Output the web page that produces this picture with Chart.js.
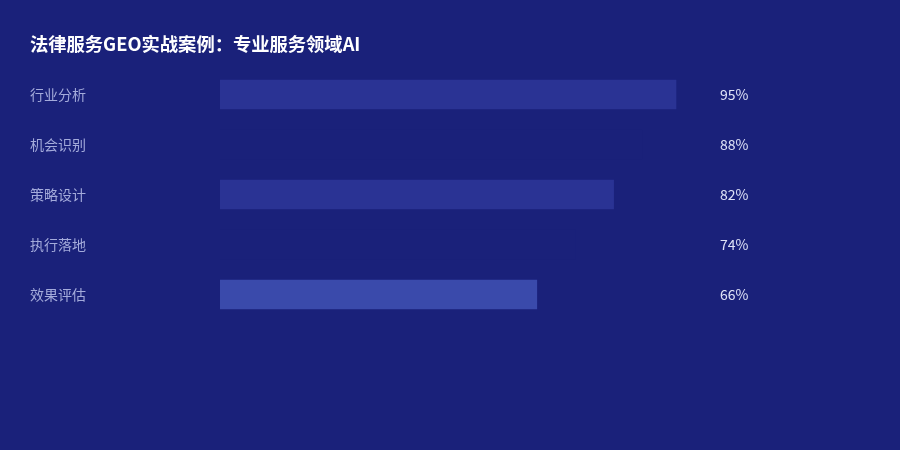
<!DOCTYPE html>
<html>
<head>
<meta charset="utf-8">
<script src="https://cdn.jsdelivr.net/npm/chart.js@4"></script>
<style>
  html, body { margin: 0; padding: 0; background: #1a217a; }
  #wrap { width: 900px; height: 450px; }
</style>
</head>
<body>
<div id="wrap"><canvas id="chart"></canvas></div>
<script>
// データ
const titleText = '法律服务GEO实战案例：专业服务领域AI';
const stages = ['行业分析', '机会识别', '策略设计', '执行落地', '效果评估'];
const scores = [95, 88, 82, 74, 66];
const barColors = ['#2a3394', '#1a217a', '#2a3394', '#1a217a', '#3a4aab'];

const FONT = '"Noto Sans CJK SC", "Noto Sans", sans-serif';

// 右側のパーセント表示
const valueLabels = {
  id: 'valueLabels',
  afterDatasetsDraw(chart) {
    const { ctx, chartArea } = chart;
    const meta = chart.getDatasetMeta(0);
    ctx.save();
    ctx.font = '14px ' + FONT;
    ctx.fillStyle = '#dfe3f7';
    ctx.textAlign = 'left';
    ctx.textBaseline = 'middle';
    meta.data.forEach((bar, i) => {
      ctx.fillText(scores[i] + '%', chartArea.right + 20, bar.y);
    });
    ctx.restore();
  }
};

new Chart(document.getElementById('chart'), {
  type: 'bar',
  data: {
    labels: stages,
    datasets: [{
      data: scores,
      backgroundColor: barColors,
      borderWidth: 0,
      barThickness: 29,
    }]
  },
  options: {
    indexAxis: 'y',
    responsive: true, maintainAspectRatio: false,
    animation: false,
    layout: { padding: { left: 30, right: 200, top: 0, bottom: 130.5 } },
    plugins: {
      legend: { display: false },
      tooltip: { enabled: false },
      title: {
        display: true,
        text: titleText,
        align: 'start',
        color: '#ffffff',
        font: { family: FONT, size: 18.3, weight: 'bold', lineHeight: 1.2 },
        padding: { top: 33, bottom: 14.5 }
      }
    },
    scales: {
      x: { display: false, min: 0, max: 100 },
      y: {
        grid: { display: false },
        border: { display: false },
        ticks: {
          color: '#a4abdb',
          font: { family: FONT, size: 14 },
          crossAlign: 'far',
          padding: 0
        },
        afterFit(axis) { axis.width = 190; }
      }
    }
  },
  plugins: [valueLabels]
});
</script>
</body>
</html>
